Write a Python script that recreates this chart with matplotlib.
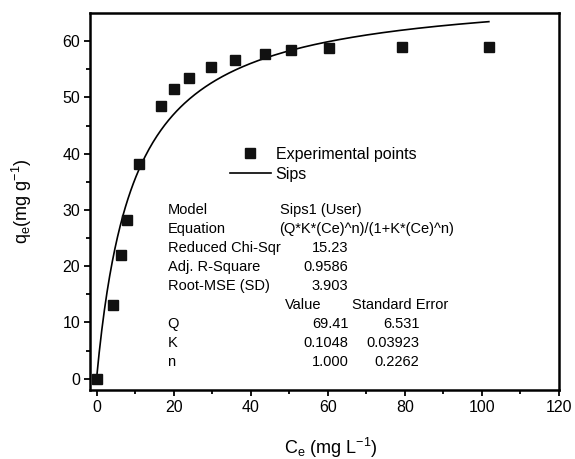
import numpy as np
import matplotlib
matplotlib.use("Agg")
import matplotlib.pyplot as plt

plt.rcParams["font.family"] = ["Liberation Sans", "DejaVu Sans"]
plt.rcParams["mathtext.default"] = "regular"

# experimental points
ce = [0, 4.2, 6.3, 7.8, 10.9, 16.7, 20.0, 23.9, 29.7, 36.0, 43.6, 50.5, 60.4, 79.3, 101.8]
qe = [0, 13.1, 22.0, 28.2, 38.2, 48.4, 51.5, 53.5, 55.4, 56.7, 57.8, 58.4, 58.7, 58.9, 58.9]

# Sips fit parameters, as printed in the chart
Q = 69.41
K = 0.1048
n = 1.000

table_labels = ["Model", "Equation", "Reduced Chi-Sqr", "Adj. R-Square",
                "Root-MSE (SD)", "", "Q", "K", "n"]
table_text = ["Sips1 (User)", "(Q*K*(Ce)^n)/(1+K*(Ce)^n)"]
table_stats = ["15.23", "0.9586", "3.903"]
param_values = ["69.41", "0.1048", "1.000"]
param_errors = ["6.531", "0.03923", "0.2262"]

W, H = 575, 459
fig = plt.figure(figsize=(W / 100, H / 100), dpi=100)
ax = fig.add_axes([90 / W, 1 - 390 / H, (559 - 90) / W, (390 - 13) / H])

x_fit = np.linspace(0, max(ce), 300)
y_fit = Q * K * x_fit ** n / (1 + K * x_fit ** n)

ax.plot(ce, qe, "s", color="#111111", ms=7.5, label="Experimental points", zorder=3)
ax.plot(x_fit, y_fit, "-", color="black", lw=1.2, label="Sips", zorder=2)

ax.set_xlim(-1.7, 120)
ax.set_ylim(-2, 65)
ax.set_xticks(range(0, 121, 20))
ax.set_xticks(range(10, 120, 20), minor=True)
ax.set_yticks(range(0, 61, 10))
ax.set_yticks(range(5, 61, 10), minor=True)

for s in ax.spines.values():
    s.set_linewidth(1.8)
ax.tick_params(which="major", direction="out", length=4.5, width=1.3,
               labelsize=11.5, pad=2.5, top=False, right=False)
ax.tick_params(which="minor", direction="out", length=3.2, width=1.3,
               top=False, right=False)

ax.set_xlabel("C$_{e}$ (mg L$^{\\mathregular{-1}}$)", fontsize=13)
ax.xaxis.set_label_coords((331 - 90) / 469, -46 / 377)
ax.set_ylabel("q$_{e}$(mg g$^{\\mathregular{-1}}$)", fontsize=13)
ax.yaxis.set_label_coords(-56 / 469, 0.5)

ax.legend(loc="upper left", bbox_to_anchor=(230 / W, 1 - 147 / H),
          bbox_transform=fig.transFigure, frameon=False, fontsize=11.5,
          borderpad=0, borderaxespad=0, handlelength=2.55, handletextpad=0.3,
          labelspacing=0.3, numpoints=1)


def put(x, y, s, ha="left"):
    fig.text(x / W, 1 - y / H, s, ha=ha, va="center", fontsize=10.5)


y0, dy = 210, 19
for i, lab in enumerate(table_labels):
    if lab:
        put(167.5, y0 + i * dy, lab)
for i, s in enumerate(table_text):
    put(279.5, y0 + i * dy, s)
for i, s in enumerate(table_stats):
    put(348.5, y0 + (i + 2) * dy, s, ha="right")
put(284.5, y0 + 5 * dy, "Value")
put(352.5, y0 + 5 * dy, "Standard Error")
for i in range(3):
    put(348.5, y0 + (i + 6) * dy, param_values[i], ha="right")
    put(419.5, y0 + (i + 6) * dy, param_errors[i], ha="right")

fig.savefig("out.png", dpi=100)
